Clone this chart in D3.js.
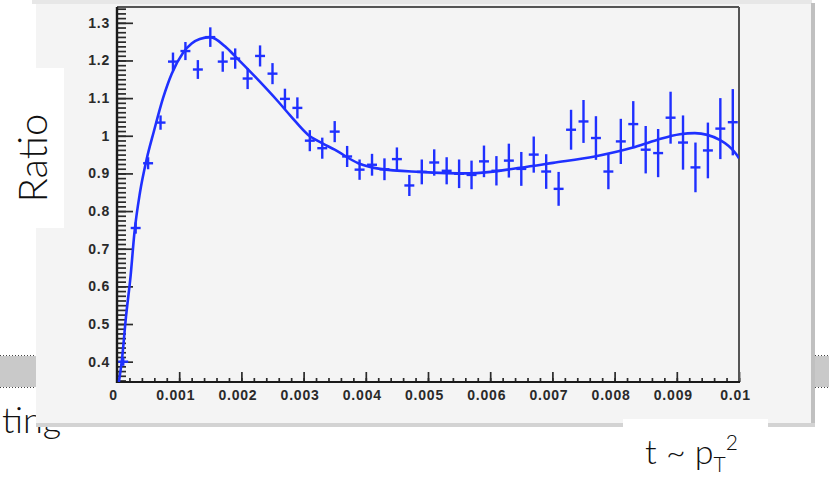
<!DOCTYPE html>
<html>
<head>
<meta charset="utf-8">
<title>Ratio vs t</title>
<style>
  body { margin: 0; background: #fff; }
  svg { display: block; }
</style>
</head>
<body>
<div id="chart"></div>
<script src="https://cdn.jsdelivr.net/npm/d3@7/dist/d3.min.js"></script>
<script>
// histogram: 50 bins over t = 0 .. 0.01
var binLow = 0;
var binWidth = 0.0002;
var ratio = [
  0.400, 0.755, 0.927, 1.035, 1.197, 1.225, 1.176, 1.262, 1.197, 1.205,
  1.152, 1.212, 1.165, 1.098, 1.074, 0.987, 0.967, 1.011, 0.945, 0.910,
  0.923, 0.911, 0.938, 0.868, 0.904, 0.929, 0.907, 0.899, 0.896, 0.932,
  0.907, 0.934, 0.912, 0.950, 0.905, 0.859, 1.016, 1.038, 0.994, 0.905,
  0.985, 1.031, 0.963, 0.954, 1.048, 0.982, 0.916, 0.961, 1.019, 1.036
];
var ratioErr = [
  0.011, 0.015, 0.016, 0.019, 0.024, 0.024, 0.025, 0.026, 0.027, 0.027,
  0.028, 0.028, 0.028, 0.027, 0.028, 0.028, 0.028, 0.028, 0.028, 0.027,
  0.029, 0.029, 0.031, 0.028, 0.033, 0.035, 0.036, 0.038, 0.038, 0.042,
  0.039, 0.045, 0.045, 0.048, 0.046, 0.045, 0.053, 0.057, 0.058, 0.047,
  0.060, 0.061, 0.063, 0.064, 0.069, 0.072, 0.066, 0.074, 0.081, 0.088
];
// fit curve
var fitT = [
  0.00003, 0.000076, 0.000145, 0.00022, 0.00028, 0.00037, 0.00048, 0.00059,
  0.00074, 0.00088, 0.00106, 0.0012, 0.00133, 0.0015, 0.00174, 0.0019,
  0.00222, 0.00259, 0.0028, 0.00307, 0.00329, 0.0035, 0.00388, 0.00423,
  0.00487, 0.00567, 0.00648, 0.00701, 0.00768, 0.00828, 0.00868, 0.00905,
  0.00929, 0.00969, 0.00996, 0.01
];
var fitV = [
  0.346, 0.40, 0.52, 0.63, 0.742, 0.85, 0.94, 1.01,
  1.10, 1.165, 1.22, 1.245, 1.257, 1.262, 1.237, 1.211,
  1.157, 1.091, 1.051, 1.003, 0.981, 0.963, 0.927, 0.912,
  0.904, 0.900, 0.915, 0.928, 0.945, 0.968, 0.989, 1.004,
  1.007, 0.989, 0.950, 0.940
];
var xTicks = [0, 0.001, 0.002, 0.003, 0.004, 0.005, 0.006, 0.007, 0.008, 0.009, 0.01];
var xTickLabels = ['0', '0.001', '0.002', '0.003', '0.004', '0.005', '0.006', '0.007', '0.008', '0.009', '0.01'];
var yTicks = [0.4, 0.5, 0.6, 0.7, 0.8, 0.9, 1.0, 1.1, 1.2, 1.3];
var yTickLabels = ['0.4', '0.5', '0.6', '0.7', '0.8', '0.9', '1', '1.1', '1.2', '1.3'];

(function(d3) {
  'use strict';
  var width = 829;
  var height = 477;
  var blue = '#1f30ff';
  var font = 'Lato, "Open Sans", sans-serif';

  var svg = d3.select('#chart')
    .append('svg')
    .attr('width', width)
    .attr('height', height);

  svg.append('rect').attr('width', width).attr('height', height).attr('fill', '#fff');

  // slide text behind the picture
  svg.append('text')
    .attr('x', 2).attr('y', 433)
    .attr('font-family', font).attr('font-weight', 300).attr('font-size', 36)
    .attr('fill', '#111')
    .text('ting');

  // dotted grey strips on both sides
  [[0, 36], [815, 829]].forEach(function(s) {
    svg.append('rect')
      .attr('x', s[0]).attr('y', 356).attr('width', s[1] - s[0]).attr('height', 31)
      .attr('fill', '#c9c9c9');
    [355.5, 387.5].forEach(function(yy) {
      svg.append('line')
        .attr('x1', s[0]).attr('x2', s[1]).attr('y1', yy).attr('y2', yy)
        .attr('stroke', '#444').attr('stroke-dasharray', '1,2');
    });
  });

  // canvas panel
  svg.append('rect').attr('x', 36).attr('y', 0).attr('width', 776).attr('height', 424).attr('fill', '#f4f4f4');
  svg.append('rect').attr('x', 32).attr('y', 0).attr('width', 780).attr('height', 4).attr('fill', '#e7e7e7');
  svg.append('rect').attr('x', 811).attr('y', 3).attr('width', 4).attr('height', 424).attr('fill', '#c0c0c0');
  svg.append('rect').attr('x', 36).attr('y', 423).attr('width', 779).attr('height', 4).attr('fill', '#d3d3d3');

  var x = d3.scaleLinear().domain([0, 0.01]).range([117, 739]);
  var y = d3.scaleLinear().domain([0.346, 1.342]).range([382, 7]);

  var xMinor = d3.range(0, 0.01 + 1e-9, 0.0002);
  var yMinor = d3.range(0.35, 1.342, 0.0125);

  function styleAxis(g) {
    g.select('.domain').remove();
    g.selectAll('.tick line').attr('stroke', '#2a2a2a').attr('stroke-width', 1.7);
    g.selectAll('.tick text')
      .attr('fill', '#2a2a2a')
      .attr('font-family', '"Liberation Sans", Arial, sans-serif')
      .attr('font-weight', 'bold')
      .attr('font-size', 14)
      .attr('letter-spacing', 0.8);
  }

  svg.append('g')
    .attr('transform', 'translate(0,382)')
    .call(d3.axisBottom(x).tickValues(xMinor).tickSize(-4).tickFormat(''))
    .call(styleAxis);
  svg.append('g')
    .attr('transform', 'translate(0,382)')
    .call(d3.axisBottom(x).tickValues(xTicks).tickSizeInner(-10).tickSizeOuter(0)
      .tickPadding(8).tickFormat(function(d, i) { return xTickLabels[i]; }))
    .call(styleAxis)
    .selectAll('.tick text').attr('dx', -4);

  svg.append('g')
    .attr('transform', 'translate(117,0)')
    .call(d3.axisLeft(y).tickValues(yMinor).tickSize(-9).tickFormat(''))
    .call(styleAxis);
  svg.append('g')
    .attr('transform', 'translate(117,0)')
    .call(d3.axisLeft(y).tickValues(yTicks).tickSizeInner(-16).tickSizeOuter(0)
      .tickPadding(7).tickFormat(function(d, i) { return yTickLabels[i]; }))
    .call(styleAxis);

  // frame
  var x0 = x.range()[0], x1 = x.range()[1], y0 = y.range()[0], y1 = y.range()[1];
  svg.append('line').attr('x1', x0).attr('x2', x1).attr('y1', y1).attr('y2', y1)
    .attr('stroke', '#555').attr('stroke-width', 2);
  svg.append('line').attr('x1', x1).attr('x2', x1).attr('y1', y1).attr('y2', y0)
    .attr('stroke', '#555').attr('stroke-width', 2);
  svg.append('line').attr('x1', x0).attr('x2', x1 + 1).attr('y1', y0).attr('y2', y0)
    .attr('stroke', '#1a1a1a').attr('stroke-width', 2.2);
  svg.append('line').attr('x1', x0).attr('x2', x0).attr('y1', y1).attr('y2', y0 + 1)
    .attr('stroke', '#1a1a1a').attr('stroke-width', 2.4);

  svg.append('clipPath').attr('id', 'plotclip')
    .append('rect').attr('x', x0).attr('y', y1).attr('width', x1 - x0).attr('height', y0 - y1);

  var plot = svg.append('g').attr('clip-path', 'url(#plotclip)');

  // data points with error bars
  var pts = plot.selectAll('g.pt')
    .data(ratio)
    .enter()
    .append('g')
    .attr('class', 'pt')
    .attr('stroke', blue)
    .attr('stroke-width', 2.4);
  pts.append('line')
    .attr('x1', function(d, i) { return x(binLow + (i + 0.1) * binWidth); })
    .attr('x2', function(d, i) { return x(binLow + (i + 0.9) * binWidth); })
    .attr('y1', function(d) { return y(d); })
    .attr('y2', function(d) { return y(d); });
  pts.append('line')
    .attr('x1', function(d, i) { return x(binLow + (i + 0.5) * binWidth); })
    .attr('x2', function(d, i) { return x(binLow + (i + 0.5) * binWidth); })
    .attr('y1', function(d, i) { return y(d - ratioErr[i]); })
    .attr('y2', function(d, i) { return y(d + ratioErr[i]); });

  // fit curve
  var line = d3.line()
    .x(function(d) { return x(d[0]); })
    .y(function(d) { return y(d[1]); })
    .curve(d3.curveMonotoneX);
  plot.append('path')
    .attr('d', line(d3.zip(fitT, fitV)))
    .attr('fill', 'none')
    .attr('stroke', blue)
    .attr('stroke-width', 2.6);

  // axis titles on white boxes
  svg.append('rect').attr('x', 0).attr('y', 68).attr('width', 64).attr('height', 160).attr('fill', '#fff');
  svg.append('text')
    .attr('transform', 'translate(47,158) rotate(-90)')
    .attr('text-anchor', 'middle')
    .attr('font-family', font).attr('font-weight', 300).attr('font-size', 40)
    .attr('fill', '#111')
    .text('Ratio');

  svg.append('rect').attr('x', 623).attr('y', 419).attr('width', 145).attr('height', 58).attr('fill', '#fff');
  var xt = svg.append('text')
    .attr('x', 645).attr('y', 464)
    .attr('font-family', font).attr('font-weight', 300).attr('font-size', 34)
    .attr('fill', '#111');
  xt.append('tspan').text('t ~ p');
  xt.append('tspan').attr('font-size', 21).attr('dy', 8).text('T');
  xt.append('tspan').attr('font-size', 21).attr('dy', -22).text('2');
})(window.d3);
</script>
</body>
</html>
